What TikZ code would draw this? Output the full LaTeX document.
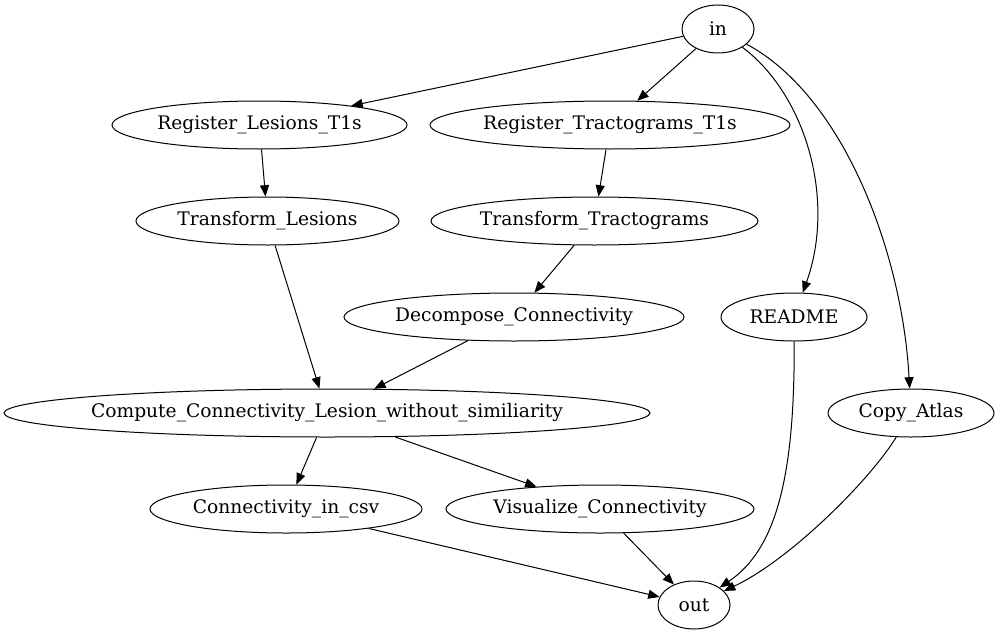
\documentclass[tikz,border=0pt]{standalone}
\usepackage{fontspec}
\setmainfont{DejaVu Serif}
\usetikzlibrary{shapes.geometric,arrows.meta}

\tikzset{every picture/.style={line width=0.75pt}}

\begin{document}
\begin{tikzpicture}[x=0.75pt,y=0.75pt,yscale=-1,
	job/.style={ellipse, draw, inner sep=0pt, minimum height=36pt, minimum width=#1*0.75pt, font=\fontsize{14}{16}\selectfont},
	flow/.style={-{Triangle[length=8.5pt,width=6.8pt]}}]
	\useasboundingbox (0,0) rectangle (998,635);
	
	% Nodes, one rank per row
	\node[job=72]  (in)    at (718,29)    {\makebox[0pt]{in}};
	\node[job=295] (rlt1)  at (259.5,125) {\makebox[0pt]{Register\_Lesions\_T1s}};
	\node[job=360] (rtt1)  at (610,125)   {\makebox[0pt]{Register\_Tractograms\_T1s}};
	\node[job=263] (tles)  at (267.5,221) {\makebox[0pt]{Transform\_Lesions}};
	\node[job=327] (ttrac) at (594.5,221) {\makebox[0pt]{Transform\_Tractograms}};
	\node[job=340] (dcon)  at (514,317)   {\makebox[0pt]{Decompose\_Connectivity}};
	\node[job=146] (readme) at (794,317)  {\makebox[0pt]{README}};
	\node[job=646] (ccon)  at (327,413)   {\makebox[0pt]{Compute\_Connectivity\_Lesion\_without\_similiarity}};
	\node[job=166] (atlas) at (911,413)   {\makebox[0pt]{Copy\_Atlas}};
	\node[job=272] (csv)   at (286,509)   {\makebox[0pt]{Connectivity\_in\_csv}};
	\node[job=308] (vis)   at (600,509)   {\makebox[0pt]{Visualize\_Connectivity}};
	\node[job=72]  (out)   at (694,605)   {\makebox[0pt]{out}};
	
	% Straight edges
	\draw[flow] (in) -- (rlt1);
	\draw[flow] (in) -- (rtt1);
	\draw[flow] (rlt1) -- (tles);
	\draw[flow] (rtt1) -- (ttrac);
	\draw[flow] (tles) -- (ccon);
	\draw[flow] (ttrac) -- (dcon);
	\draw[flow] (dcon) -- (ccon);
	\draw[flow] (ccon) -- (csv);
	\draw[flow] (ccon) -- (vis);
	\draw[flow] (csv) -- (out);
	\draw[flow] (vis) -- (out);
	
	% Curved edges
	\draw[flow] (in) .. controls (806,95) and (836,200) .. (readme);
	\draw[flow] (in) .. controls (842,95) and (902,250) .. (atlas);
	\draw[flow] (readme) .. controls (795,480) and (775,550) .. (out);
	\draw[flow] (atlas) .. controls (870,480) and (790,560) .. (out);
\end{tikzpicture}
\end{document}
